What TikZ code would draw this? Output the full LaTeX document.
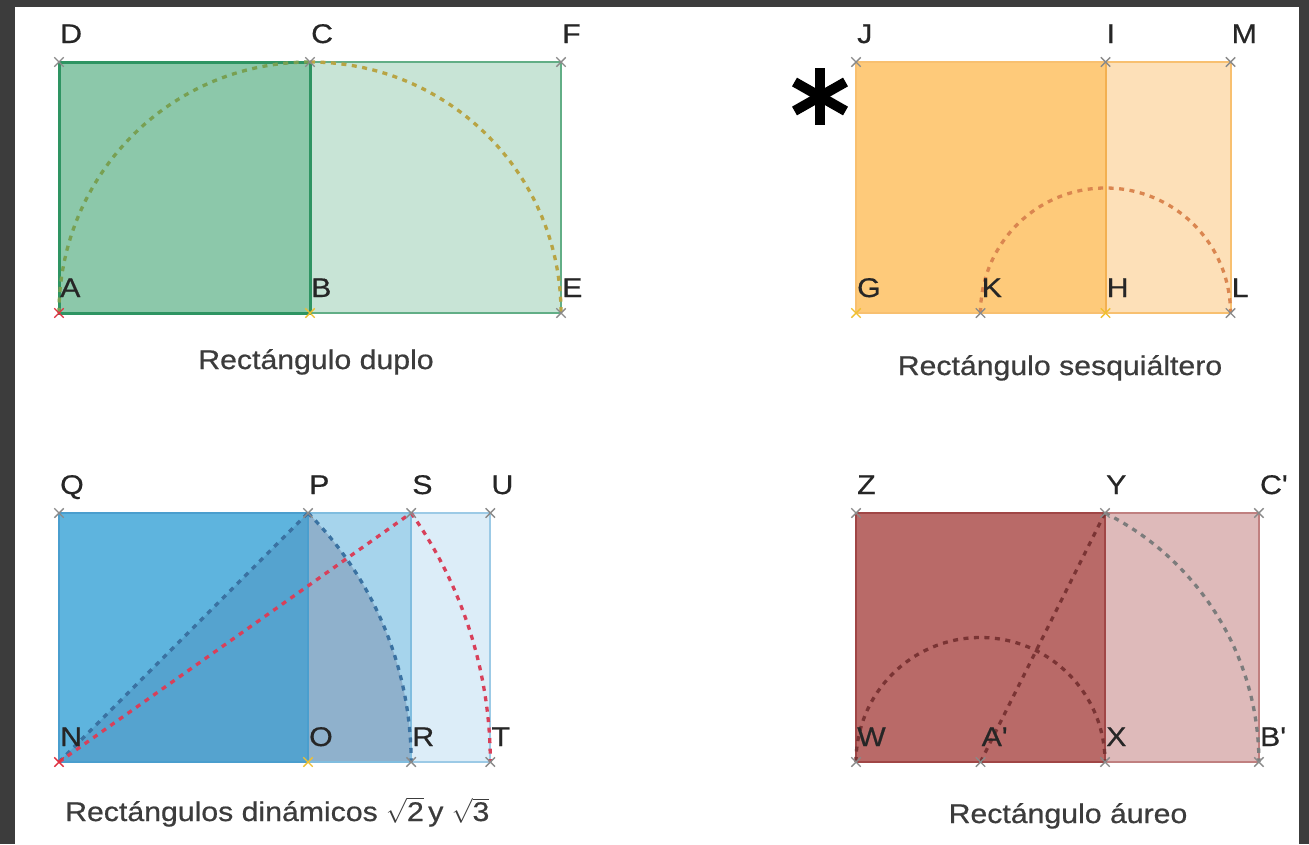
\documentclass[tikz,border=0pt]{standalone}
\usepackage{fontspec}
\setmainfont{Liberation Sans}
\newfontfamily\wfont[FakeStretch=1.12,FakeBold=0.6]{Liberation Sans}
\usetikzlibrary{shapes.misc,calc}
\definecolor{bgdark}{HTML}{3C3C3C}
\definecolor{gsq}{HTML}{8CC8AA}
\definecolor{gext}{HTML}{C8E4D6}
\definecolor{gline}{HTML}{2E9462}
\definecolor{glinel}{HTML}{62AE86}
\definecolor{garc1}{HTML}{78A052}
\definecolor{garc2}{HTML}{B8A444}
\definecolor{osq}{HTML}{FECA7A}
\definecolor{oext}{HTML}{FDE0B8}
\definecolor{oline}{HTML}{F8C070}
\definecolor{olined}{HTML}{F3B050}
\definecolor{oarc}{HTML}{DA8650}
\definecolor{bsq}{HTML}{5EB4DE}
\definecolor{btri}{HTML}{55A3CF}
\definecolor{bsect}{HTML}{8FB1CC}
\definecolor{bext}{HTML}{A6D4EC}
\definecolor{bext2}{HTML}{DCEDF8}
\definecolor{bline}{HTML}{4A9ECE}
\definecolor{blinel}{HTML}{80BDDF}
\definecolor{blinell}{HTML}{9CCAE6}
\definecolor{bdash}{HTML}{3A72A2}
\definecolor{rdash}{HTML}{D8405A}
\definecolor{rsq}{HTML}{B96A68}
\definecolor{rext}{HTML}{DEBABA}
\definecolor{rline}{HTML}{A04646}
\definecolor{rlinel}{HTML}{C08080}
\definecolor{rdashd}{HTML}{7A3434}
\definecolor{mgray}{HTML}{8A8A8A}
\definecolor{mred}{HTML}{E03040}
\definecolor{myel}{HTML}{F0C030}
\definecolor{txt}{HTML}{262626}
\tikzset{
  dsh/.style={dash pattern=on 5pt off 5.5pt, line width=3.3pt},
  mk/.style={cross out, draw=#1, minimum size=8pt, inner sep=0pt, line width=1.4pt},
  lbl/.style={font=\wfont\fontsize{27}{27}\selectfont, text=txt, inner sep=0pt, anchor=base west},
  capt/.style={font=\wfont\fontsize{27}{27}\selectfont, text=txt!90, inner sep=0pt},
  astarm/.style={line width=10pt, black},
}
\begin{document}
\begin{tikzpicture}[x=1pt,y=-1pt]
\useasboundingbox (0,0) rectangle (1309,844);
\fill[bgdark] (0,0) rectangle (1309,844);
\fill[white] (15,7) rectangle (1299,844);

% ---------- coordinates ----------
% green (duplo)
\coordinate (A) at (59,313);  \coordinate (B) at (310,313);  \coordinate (E) at (561,313);
\coordinate (D) at (59,62);   \coordinate (C) at (310,62);   \coordinate (F) at (561,62);
% orange (sesquialtero)
\coordinate (G) at (856,313); \coordinate (K) at (980.5,313); \coordinate (H) at (1105.5,313); \coordinate (L) at (1230.5,313);
\coordinate (J) at (856,62);  \coordinate (I) at (1105.5,62); \coordinate (M) at (1230.5,62);
% blue (dinamicos)
\coordinate (N) at (59,762);  \coordinate (O) at (308,762);  \coordinate (R) at (411.14,762); \coordinate (T) at (490.28,762);
\coordinate (Q) at (59,513);  \coordinate (P) at (308,513);  \coordinate (S) at (411.14,513); \coordinate (U) at (490.28,513);
% red (aureo)
\coordinate (W) at (856,762); \coordinate (Ap) at (980.5,762); \coordinate (X) at (1105,762); \coordinate (Bp) at (1258.9,762);
\coordinate (Z) at (856,513); \coordinate (Y) at (1105,513);   \coordinate (Cp) at (1258.9,513);

% ---------- green ----------
\fill[gsq] (A) rectangle (C);
\fill[gext] (B) rectangle (F);
\draw[glinel, line width=2.2pt] (B) -- (E) -- (F) -- (C);
\draw[gline, line width=3pt] (A) -- (B) -- (C) -- (D) -- cycle;
\draw[dsh, garc1] (A) arc[start angle=180, end angle=270, radius=251];
\draw[dsh, garc2] (C) arc[start angle=270, end angle=360, radius=251];

% ---------- orange ----------
\fill[osq] (G) rectangle (I);
\fill[oext] (H) rectangle (M);
\draw[oline, line width=2pt] (G) -- (L) -- (M) -- (J) -- cycle;
\draw[olined, line width=2pt] (H) -- (I);
\draw[dsh, oarc] (K) arc[start angle=180, end angle=360, radius=125];

% ---------- blue ----------
\fill[bsq] (N) rectangle (P);
\fill[bext] (O) rectangle (S);
\fill[bext2] (R) rectangle (U);
\fill[btri] (N) -- (O) -- (P) -- cycle;
\fill[bsect] (O) -- (P) arc[start angle=315, end angle=360, radius=352.14] -- cycle;
\draw[blinell, line width=2pt] (R) -- (T) -- (U) -- (S);
\draw[blinel, line width=2pt] (O) -- (R) -- (S) -- (P);
\draw[bline, line width=2.6pt] (N) -- (O) -- (P) -- (Q) -- cycle;
\draw[dsh, bdash] (N) -- (P);
\draw[dsh, bdash] (P) arc[start angle=315, end angle=360, radius=352.14];
\draw[dsh, rdash] (N) -- (S);
\draw[dsh, rdash] (S) arc[start angle=324.736, end angle=360, radius=431.28];

% ---------- red ----------
\fill[rsq] (W) rectangle (Y);
\fill[rext] (X) rectangle (Cp);
\draw[rlinel, line width=2.4pt] (X) -- (Bp) -- (Cp) -- (Y);
\draw[rline, line width=2.8pt] (W) -- (X) -- (Y) -- (Z) -- cycle;
\draw[dsh, rdashd] (W) arc[start angle=180, end angle=360, radius=124.5];
\draw[dsh, rdashd] (Ap) -- (Y);
\draw[dsh, mgray!90!black] (Y) arc[start angle=296.565, end angle=360, radius=278.39];

% ---------- markers ----------
\foreach \p in {D,C,F,E,J,I,M,K,L,Q,P,S,U,R,T,Z,Y,Cp,W,Ap,X,Bp}
  \node[mk=mgray] (m\p) at (\p) {};
\foreach \p in {A,N}
  \node[mk=mred] (m\p) at (\p) {};
\foreach \p in {B,O,G,H}
  \node[mk=myel] (m\p) at (\p) {};

% ---------- labels ----------
\foreach \p/\t in {D/D,C/C,F/F,J/J,I/I,M/M,Q/Q,P/P,S/S,U/U,Z/Z,Y/Y,Cp/C\textquotesingle}
  \node[lbl] (l\p) at ($(\p)+(1,-19)$) {\t};
\foreach \p/\t in {A/A,B/B,E/E,G/G,K/K,H/H,L/L,N/N,O/O,R/R,T/T,W/W,Ap/A\textquotesingle,X/X,Bp/B\textquotesingle}
  \node[lbl] (l\p) at ($(\p)+(1,-16)$) {\t};

% ---------- captions ----------
\node[capt, anchor=base] (cap1) at (316,369) {Rectángulo duplo};
\node[capt, anchor=base] (cap2) at (1060,375) {Rectángulo sesquiáltero};
\node[capt, anchor=base west] (cap3) at (65,821) {Rectángulos dinámicos $\sqrt{\mbox{2}}$\,y $\sqrt{\mbox{3}}$};
\node[capt, anchor=base] (cap4) at (1068,823) {Rectángulo áureo};

% ---------- asterisk (six-armed mark) ----------
\coordinate (ast) at (820,96.5);
\draw[astarm] ($(ast)+(0,-28.5)$) -- ($(ast)+(0,28.5)$);
\draw[astarm] ($(ast)+(-25.5,-14.5)$) -- ($(ast)+(25.5,14.5)$);
\draw[astarm] ($(ast)+(-25.5,14.5)$) -- ($(ast)+(25.5,-14.5)$);
\end{tikzpicture}
\end{document}
